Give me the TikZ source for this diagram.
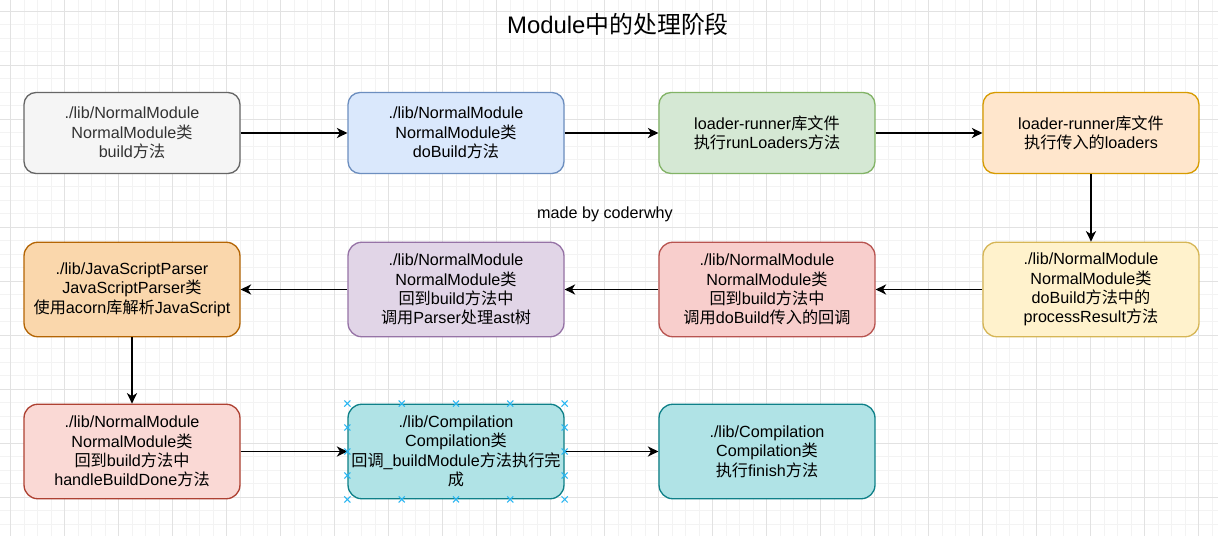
\documentclass[tikz,border=0pt]{standalone}
\usepackage{fontspec}
\setmainfont{Liberation Sans}
\newfontfamily\cjk{Noto Sans CJK SC}
\newcommand{\zh}[1]{{\cjk #1}}
\usepackage{tikz}
\usetikzlibrary{calc,arrows.meta,shapes.misc}
\definecolor{gridminor}{HTML}{F3F3F3}
\definecolor{gridmajor}{HTML}{E2E2E2}
\definecolor{grayfill}{HTML}{F5F5F5}\definecolor{graydraw}{HTML}{666666}
\definecolor{bluefill}{HTML}{DAE8FC}\definecolor{bluedraw}{HTML}{6C8EBF}
\definecolor{greenfill}{HTML}{D5E8D4}\definecolor{greendraw}{HTML}{82B366}
\definecolor{orangefill}{HTML}{FFE6CC}\definecolor{orangedraw}{HTML}{D79B00}
\definecolor{yellowfill}{HTML}{FFF2CC}\definecolor{yellowdraw}{HTML}{D6B656}
\definecolor{redfill}{HTML}{F8CECC}\definecolor{reddraw}{HTML}{B85450}
\definecolor{purplefill}{HTML}{E1D5E7}\definecolor{purpledraw}{HTML}{9673A6}
\definecolor{darkorangefill}{HTML}{FAD7AC}\definecolor{darkorangedraw}{HTML}{B46504}
\definecolor{pinkfill}{HTML}{FAD9D5}\definecolor{pinkdraw}{HTML}{AE4132}
\definecolor{tealfill}{HTML}{B0E3E6}\definecolor{tealdraw}{HTML}{0E8088}
\definecolor{selblue}{HTML}{29B6F2}
\begin{document}
\begin{tikzpicture}[x=0.02cm, y=-0.02cm,
  stage/.style={draw, line width=0.75pt, rounded corners=6.8pt, minimum width=4.32cm,
    align=center, inner sep=0pt, font=\fontsize{9.2}{11}\selectfont},
  shortstage/.style={stage, minimum height=1.62cm},
  tallstage/.style={stage, minimum height=1.89cm, rounded corners=7.8pt},
  flow/.style={line width=0.75pt, -{Stealth[length=6pt, width=5.8pt, inset=1.8pt]}},
  selmark/.style={cross out, draw=selblue, line width=0.6pt, minimum size=0.1cm, inner sep=0pt}]
\useasboundingbox (0,0) rectangle (1218,536);
\fill[white] (0,0) rectangle (1218,536);
% grid
\foreach \i in {0,...,89} \draw[gridminor, line width=0.5pt] (10.5+13.5*\i,0) -- (10.5+13.5*\i,536);
\foreach \i in {0,...,39} \draw[gridminor, line width=0.5pt] (0,11+13.5*\i) -- (1218,11+13.5*\i);
\foreach \i in {0,...,22} \draw[gridmajor, line width=0.5pt] (10.5+54*\i,0) -- (10.5+54*\i,536);
\foreach \i in {0,...,9} \draw[gridmajor, line width=0.5pt] (0,11+54*\i) -- (1218,11+54*\i);

\node[font=\fontsize{13.6}{16}\selectfont] (title) at (618,24) {Module\zh{中的处理阶段}};
\node[font=\fontsize{9.2}{11}\selectfont] (author) at (605,214) {made by coderwhy};

% first row
\node[shortstage, fill=grayfill, draw=graydraw, text=black!80] (build) at (132,133)
  {./lib/NormalModule\\NormalModule\zh{类}\\build\zh{方法}};
\node[shortstage, fill=bluefill, draw=bluedraw] (dobuild) at (456,133)
  {./lib/NormalModule\\NormalModule\zh{类}\\doBuild\zh{方法}};
\node[shortstage, fill=greenfill, draw=greendraw] (runloaders) at (767,133)
  {loader-runner\zh{库文件}\\\zh{执行}runLoaders\zh{方法}};
\node[shortstage, fill=orangefill, draw=orangedraw] (loaders) at (1091,133)
  {loader-runner\zh{库文件}\\\zh{执行传入的}loaders};

% second row
\node[tallstage, fill=yellowfill, draw=yellowdraw] (process) at (1091,289.5)
  {./lib/NormalModule\\NormalModule\zh{类}\\doBuild\zh{方法中的}\\processResult\zh{方法}};
\node[tallstage, fill=redfill, draw=reddraw] (callback) at (767,289.5)
  {./lib/NormalModule\\NormalModule\zh{类}\\\zh{回到}build\zh{方法中}\\\zh{调用}doBuild\zh{传入的回调}};
\node[tallstage, fill=purplefill, draw=purpledraw] (parser) at (456,289.5)
  {./lib/NormalModule\\NormalModule\zh{类}\\\zh{回到}build\zh{方法中}\\\zh{调用}Parser\zh{处理}ast\zh{树}};
\node[tallstage, fill=darkorangefill, draw=darkorangedraw] (acorn) at (132,289.5)
  {./lib/JavaScriptParser\\JavaScriptParser\zh{类}\\\zh{使用}acorn\zh{库解析}JavaScript};

% third row
\node[tallstage, fill=pinkfill, draw=pinkdraw] (done) at (132,451.5)
  {./lib/NormalModule\\NormalModule\zh{类}\\\zh{回到}build\zh{方法中}\\handleBuildDone\zh{方法}};
\node[tallstage, fill=tealfill, draw=tealdraw] (buildmodule) at (456,451.5)
  {./lib/Compilation\\Compilation\zh{类}\\\zh{回调}\_buildModule\zh{方法执行完}\\\zh{成}};
\node[tallstage, fill=tealfill, draw=tealdraw] (finish) at (767,451.5)
  {./lib/Compilation\\Compilation\zh{类}\\\zh{执行}finish\zh{方法}};

\draw[flow] (build) -- (dobuild);
\draw[flow] (dobuild) -- (runloaders);
\draw[flow] (runloaders) -- (loaders);
\draw[flow] (loaders) -- (process);
\draw[flow] (process) -- (callback);
\draw[flow] (callback) -- (parser);
\draw[flow] (parser) -- (acorn);
\draw[flow] (acorn) -- (done);
\draw[flow] (done) -- (buildmodule);
\draw[flow] (buildmodule) -- (finish);

% selection handles
\foreach \f in {0,0.25,0.5,0.75,1} {
  \node[selmark] at ($(buildmodule.north west)!\f!(buildmodule.north east)$) {};
  \node[selmark] at ($(buildmodule.south west)!\f!(buildmodule.south east)$) {};
}
\foreach \f in {0.25,0.5,0.75} {
  \node[selmark] at ($(buildmodule.north west)!\f!(buildmodule.south west)$) {};
  \node[selmark] at ($(buildmodule.north east)!\f!(buildmodule.south east)$) {};
}
\end{tikzpicture}
\end{document}
